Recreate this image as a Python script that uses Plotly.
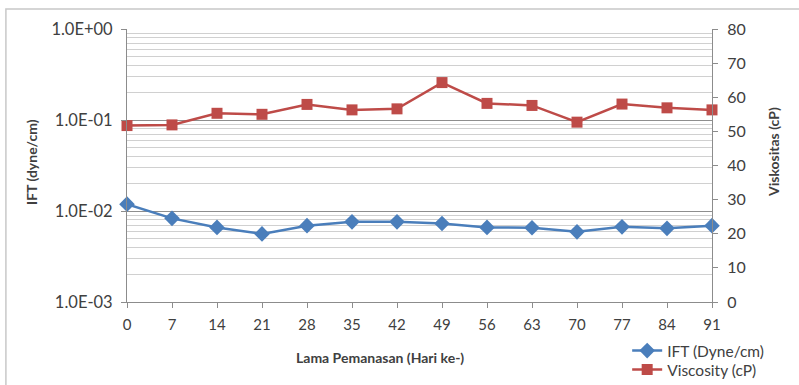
import plotly.graph_objects as go

# Heating duration (days)
days = [0, 7, 14, 21, 28, 35, 42, 49, 56, 63, 70, 77, 84, 91]

# Interfacial tension (dyne/cm), log scale on the left axis
ift = [0.0119, 0.0083, 0.0066, 0.0056, 0.0069, 0.0076, 0.0076,
       0.0073, 0.0066, 0.00655, 0.0059, 0.0067, 0.00645, 0.0069]

# Viscosity (cP), linear scale on the right axis
viscosity = [51.7, 51.9, 55.3, 55.0, 57.9, 56.3, 56.6,
             64.3, 58.2, 57.6, 52.7, 58.0, 56.9, 56.3]

left_ticks = [1e-3, 1e-2, 1e-1, 1e0]
left_labels = ["1.0E-03", "1.0E-02", "1.0E-01", "1.0E+00"]
minor_vals = [k * 10.0 ** e for e in (-3, -2, -1) for k in range(2, 10)]

blue = "#4A7EBB"
red = "#BE4B48"
axis_grey = "#8C8C8C"
text_grey = "#404040"
font_family = "Lato, Open Sans, sans-serif"

fig = go.Figure()

fig.add_trace(go.Scatter(
    x=days, y=ift, name="IFT (Dyne/cm)", mode="lines+markers",
    line=dict(color=blue, width=2.5),
    marker=dict(symbol="diamond", size=12, color=blue),
    yaxis="y", cliponaxis=False, legend="legend",
))
fig.add_trace(go.Scatter(
    x=days, y=viscosity, name="Viscosity (cP)", mode="lines+markers",
    line=dict(color=red, width=2.5),
    marker=dict(symbol="square", size=11, color=red),
    yaxis="y2", cliponaxis=False, legend="legend2",
))

legend_style = dict(
    xanchor="left", yanchor="middle", xref="paper", yref="paper",
    font=dict(size=15.5, color=text_grey), itemwidth=30,
    bgcolor="rgba(0,0,0,0)", borderwidth=0,
)

fig.update_layout(
    width=799, height=385,
    margin=dict(l=127, r=87, t=29, b=83, autoexpand=False),
    paper_bgcolor="white", plot_bgcolor="white",
    font=dict(family=font_family, size=15, color=text_grey),
    showlegend=True,
    legend=dict(x=0.855, y=(302 - 351) / 273, **legend_style),
    legend2=dict(x=0.855, y=(302 - 370) / 273, **legend_style),
    xaxis=dict(
        range=[0, 91], tickmode="array", tickvals=days,
        ticktext=[str(d) for d in days],
        showgrid=False, zeroline=False,
        showline=True, linecolor=axis_grey, linewidth=1,
        ticks="outside", ticklen=5, tickcolor=axis_grey,
        ticklabelstandoff=4,
        tickfont=dict(size=15, color=text_grey),
    ),
    yaxis=dict(
        type="log", range=[-3, 0],
        tickmode="array", tickvals=left_ticks, ticktext=left_labels,
        showgrid=True, gridcolor="#8E8E8E", gridwidth=1,
        minor=dict(tickmode="array", tickvals=minor_vals,
                   showgrid=True, gridcolor="#D0D0D0", gridwidth=1,
                   ticks=""),
        zeroline=False,
        showline=True, linecolor=axis_grey, linewidth=1,
        ticks="outside", ticklen=5, tickcolor=axis_grey,
        ticklabelstandoff=5,
        tickfont=dict(size=16.5, color=text_grey),
    ),
    yaxis2=dict(
        overlaying="y", side="right",
        range=[0, 80], dtick=10,
        showgrid=False, zeroline=False,
        showline=True, linecolor=axis_grey, linewidth=1,
        ticks="outside", ticklen=5, tickcolor=axis_grey,
        ticklabelstandoff=6,
        tickfont=dict(size=16, color=text_grey),
    ),
    shapes=[dict(type="rect", xref="paper", yref="paper",
                 x0=-0.207, x1=1.4, y0=-0.6, y1=1.073,
                 line=dict(color="#C8C8C8", width=1.5), layer="below")],
    annotations=[
        dict(text="<b>Lama Pemanasan (Hari ke-)</b>",
             xref="paper", yref="paper", x=(380 - 127) / 585, y=(302 - 357) / 273,
             xanchor="center", yanchor="middle", showarrow=False,
             font=dict(size=14, color=text_grey)),
        dict(text="<b>IFT (dyne/cm)</b>", textangle=-90,
             xref="paper", yref="paper", x=(31 - 127) / 585, y=(302 - 162) / 273,
             xanchor="center", yanchor="middle", showarrow=False,
             font=dict(size=14, color=text_grey)),
        dict(text="<b>Viskositas (cP)</b>", textangle=-90,
             xref="paper", yref="paper", x=(773 - 127) / 585, y=(302 - 152) / 273,
             xanchor="center", yanchor="middle", showarrow=False,
             font=dict(size=14, color=text_grey)),
    ],
)

fig.write_html("out.html")
